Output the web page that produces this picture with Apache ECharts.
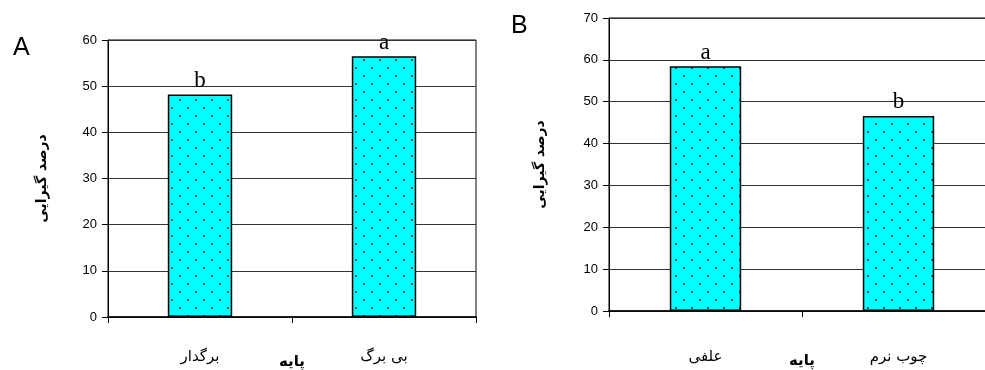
<!DOCTYPE html>
<html><head><meta charset="utf-8">
<script src="https://cdn.jsdelivr.net/npm/echarts@6/dist/echarts.min.js"></script>
<style>html,body{margin:0;padding:0;background:#fff;}#c{width:985px;height:370px;}</style>
</head><body><div id="c"></div>
<script>
// ---- data ----
const catsA = ['برگدار', 'بی برگ'];
const valsA = [48.2, 56.5];
const lettersA = ['b', 'a'];
const ticksA = [0, 10, 20, 30, 40, 50, 60];

const catsB = ['علفی', 'چوب نرم'];
const valsB = [58.5, 46.6];
const lettersB = ['a', 'b'];
const ticksB = [0, 10, 20, 30, 40, 50, 60, 70];

const yName = 'درصد گیرایی';
const xName = 'پایه';

// ---- pattern ----
function makePattern() {
  const c = document.createElement('canvas');
  c.width = 16; c.height = 16;
  const g = c.getContext('2d');
  g.fillStyle = '#00FFFF'; g.fillRect(0, 0, 16, 16);
  g.fillStyle = '#000';
  g.beginPath(); g.arc(4, 4, 0.9, 0, Math.PI * 2); g.fill();
  g.beginPath(); g.arc(12, 12, 0.9, 0, Math.PI * 2); g.fill();
  return c;
}
const pat = makePattern();

const chart = echarts.init(document.getElementById('c'), null, {renderer: 'canvas'});

function xAxisCfg(idx, cats, labelMargin) {
  return {
    type: 'category', gridIndex: idx, data: cats,
    axisLine: {lineStyle: {color: '#000', width: 1.5}},
    axisTick: {show: true, length: 6, lineStyle: {color: '#000'}},
    axisLabel: {color: '#000', fontFamily: 'DejaVu Sans', fontSize: 15, margin: labelMargin}
  };
}
function yAxisCfg(idx, ticks, nameGap) {
  return {
    type: 'value', gridIndex: idx, min: ticks[0], max: ticks[ticks.length - 1], interval: ticks[1] - ticks[0],
    axisLine: {show: true, lineStyle: {color: '#000', width: 1}},
    axisTick: {show: true, length: 6, lineStyle: {color: '#000'}},
    axisLabel: {color: '#000', fontFamily: 'Liberation Sans', fontSize: 13, margin: 11},
    splitLine: {show: true, lineStyle: {color: '#333', width: 1}},
    name: yName, nameLocation: 'middle', nameGap: nameGap, nameMoveOverlap: false,
    nameTextStyle: {color: '#000', fontFamily: 'DejaVu Sans', fontSize: 14, fontWeight: 'bold'}
  };
}
function seriesCfg(idx, vals, letters, bw) {
  return {
    type: 'bar', xAxisIndex: idx, yAxisIndex: idx, data: vals, barWidth: bw,
    itemStyle: {color: {image: pat, repeat: 'repeat'}, borderColor: '#000', borderWidth: 1.5},
    label: {show: true, position: 'top', distance: 2,
      formatter: p => letters[p.dataIndex],
      color: '#000', fontFamily: 'Liberation Serif', fontSize: 23},
    silent: true, animation: false
  };
}
const nameStyle = {text: xName, fill: '#000', font: 'bold 15px "DejaVu Sans"', textAlign: 'center', textVerticalAlign: 'middle'};

chart.setOption({
  animation: false,
  title: [
    {text: 'A', left: 8, top: 31, textStyle: {fontFamily: 'Liberation Sans', fontSize: 25, fontWeight: 'normal', color: '#000'}},
    {text: 'B', left: 506, top: 9, textStyle: {fontFamily: 'Liberation Sans', fontSize: 25, fontWeight: 'normal', color: '#000'}}
  ],
  graphic: [
    {type: 'text', x: 292, y: 362, style: nameStyle, silent: true},
    {type: 'text', x: 802, y: 361, style: nameStyle, silent: true}
  ],
  grid: [
    {left: 108, top: 40, width: 368, height: 277, show: true, borderColor: '#000', borderWidth: 1, outerBoundsMode: 'none', containLabel: false},
    {left: 609, top: 18, width: 386, height: 293, show: true, borderColor: '#000', borderWidth: 1, outerBoundsMode: 'none', containLabel: false}
  ],
  xAxis: [xAxisCfg(0, catsA, 33), xAxisCfg(1, catsB, 39)],
  yAxis: [yAxisCfg(0, ticksA, 59), yAxisCfg(1, ticksB, 62)],
  series: [seriesCfg(0, valsA, lettersA, '35%'), seriesCfg(1, valsB, lettersB, '37%')]
});
</script></body></html>
